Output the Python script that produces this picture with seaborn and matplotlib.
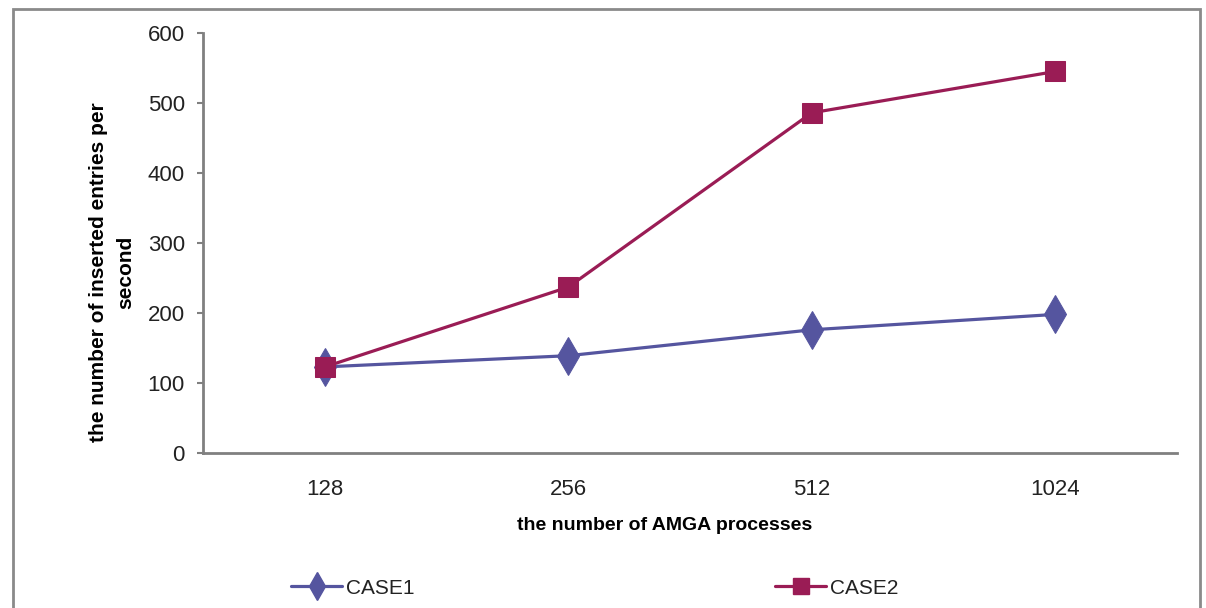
import matplotlib
matplotlib.use("Agg")
import matplotlib.pyplot as plt
from matplotlib.patches import Rectangle
from matplotlib.lines import Line2D
import seaborn as sns
import pandas as pd

# AMGA insert throughput by number of processes
processes = ["128", "256", "512", "1024"]
case1 = [123, 139, 176, 198]
case2 = [123, 237, 486, 545]
series_names = ["CASE1", "CASE2"]

df = pd.DataFrame({
    "processes": processes * 2,
    "rate": case1 + case2,
    "series": [series_names[0]] * len(processes) + [series_names[1]] * len(processes),
})

sns.set_theme(style="white")
plt.rcParams["font.family"] = ["Liberation Sans", "DejaVu Sans"]

colors = {"CASE1": "#55559f", "CASE2": "#9a1c55"}
markers = {"CASE1": "d", "CASE2": "s"}
msizes = {"CASE1": 19, "CASE2": 15}

W, H = 1206, 608
fig = plt.figure(figsize=(W / 100, H / 100), dpi=100)
ax = fig.add_axes([203 / W, 1 - 453 / H, 974 / W, 420 / H])

sns.lineplot(data=df, x="processes", y="rate", hue="series", style="series",
             palette=colors, markers=markers, dashes=False, linewidth=2.3,
             sort=False, legend=False, ax=ax)
for line, name in zip(ax.lines, series_names):
    line.set_markersize(msizes[name])
    line.set_markeredgecolor(colors[name])

ax.set_xlim(-0.5, 3.5)
ax.set_ylim(0, 600)
ax.set_yticks(range(0, 601, 100))
ax.tick_params(axis="y", direction="out", length=4, width=1.5, color="#808080",
               left=True, pad=9, labelsize=16, labelcolor="#222222")
ax.tick_params(axis="x", length=0, pad=19, labelsize=16, labelcolor="#222222")

for side in ("top", "right"):
    ax.spines[side].set_visible(False)
for side in ("left", "bottom"):
    ax.spines[side].set_color("#808080")
    ax.spines[side].set_linewidth(2)

ax.set_xlabel("the number of AMGA processes", fontsize=14, fontweight="bold",
              color="black")
ax.xaxis.set_label_coords(0.474, -0.152)
ax.set_ylabel("the number of inserted entries per\nsecond", fontsize=15,
              fontweight="bold", color="black", linespacing=1.5)
ax.yaxis.set_label_coords(-0.070, 0.43)

# legend at the bottom, two widely spaced entries
handles = [Line2D([0], [0], color=colors[n], marker=markers[n], lw=2.3,
                  markersize=msizes[n] * 0.75, markeredgecolor=colors[n])
           for n in series_names]
fig.legend(handles, series_names, loc="center", ncol=2,
           bbox_to_anchor=(595 / W, 1 - 588 / H), frameon=False, fontsize=15,
           handlelength=2.45, handletextpad=0.2, columnspacing=17.3,
           labelcolor="#222222")

# outer chart frame
fig.patches.append(Rectangle((13 / W, -0.05), 1187 / W, 1.05 - 9 / H,
                             transform=fig.transFigure, fill=False,
                             edgecolor="#8a8a8a", linewidth=2))

fig.savefig("out.png", dpi=100, facecolor="white")
